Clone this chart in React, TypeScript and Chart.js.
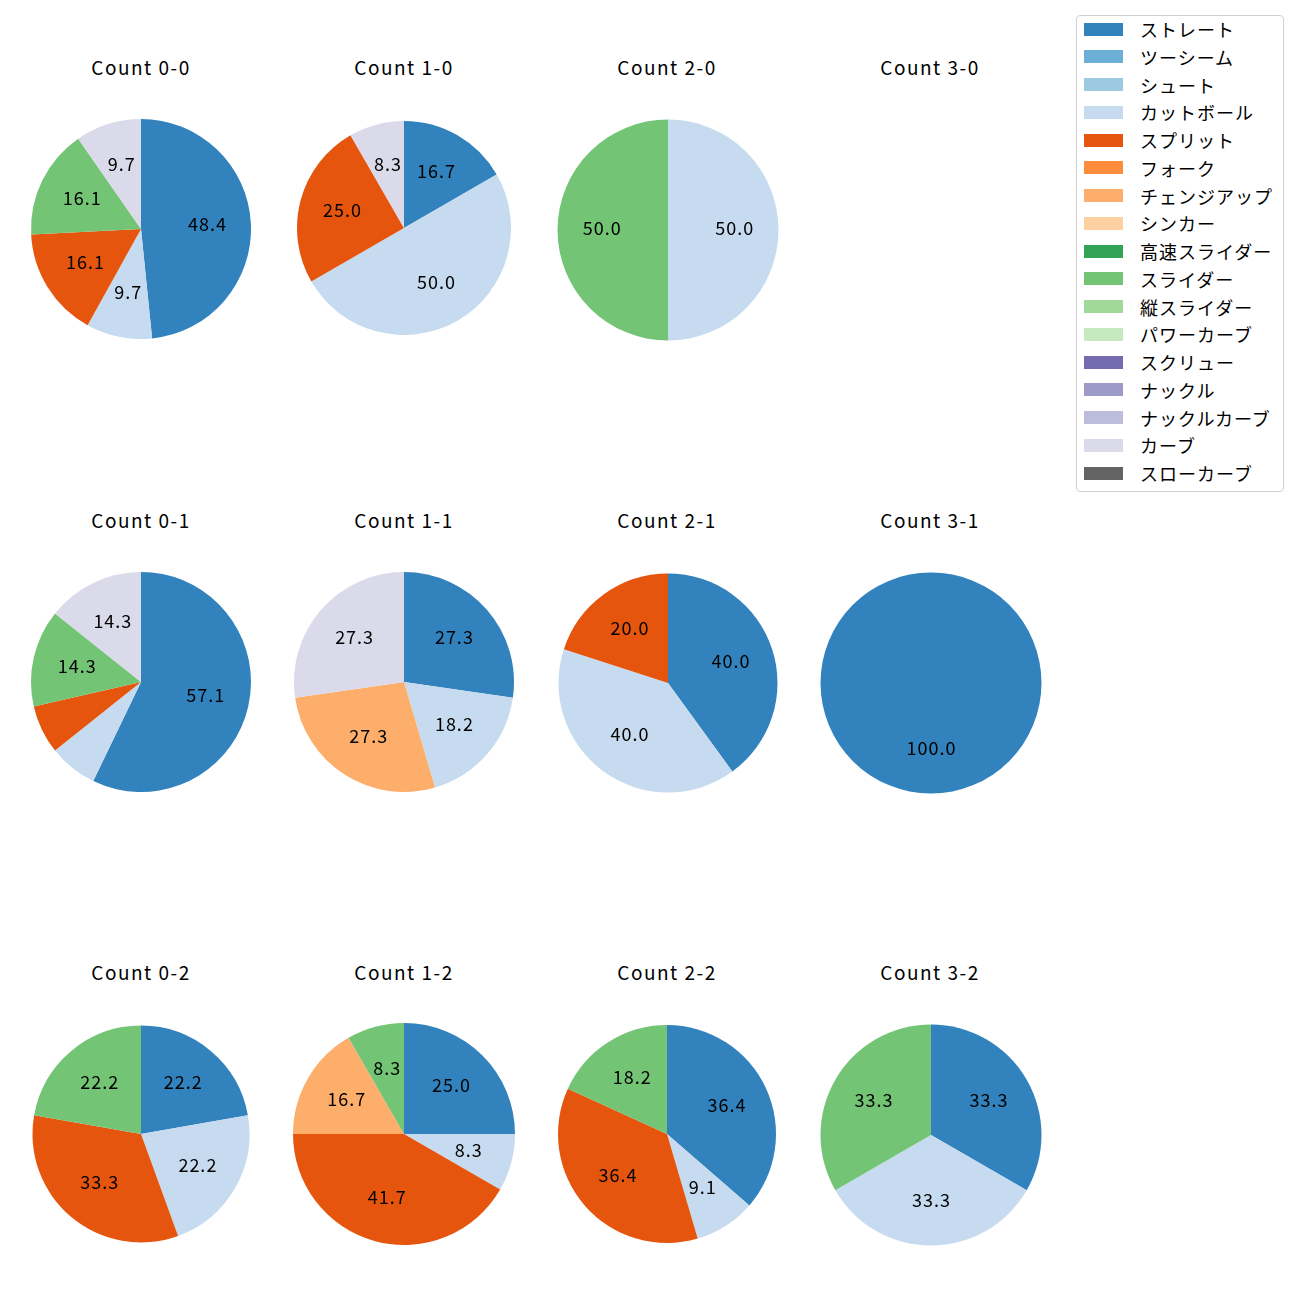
import React, { useEffect, useRef } from "react";
import { Chart, registerables } from "chart.js";

Chart.register(...registerables);

const pitchTypes = [
  "ストレート", "ツーシーム", "シュート", "カットボール", "スプリット", "フォーク",
  "チェンジアップ", "シンカー", "高速スライダー", "スライダー", "縦スライダー",
  "パワーカーブ", "スクリュー", "ナックル", "ナックルカーブ", "カーブ", "スローカーブ",
];
const pitchColors = [
  "#3182bd", "#6baed6", "#9ecae1", "#c6dbef", "#e6550d", "#fd8d3c",
  "#fdae6b", "#fdd0a2", "#31a354", "#74c476", "#a1d99b", "#c7e9c0",
  "#756bb1", "#9e9ac8", "#bcbddc", "#dadaeb", "#636363",
];

// pitch counts per ball-strike count, in pitchTypes order
const count00 = [15, 0, 0, 3, 5, 0, 0, 0, 0, 5, 0, 0, 0, 0, 0, 3, 0];
const count10 = [2, 0, 0, 6, 3, 0, 0, 0, 0, 0, 0, 0, 0, 0, 0, 1, 0];
const count20 = [0, 0, 0, 1, 0, 0, 0, 0, 0, 1, 0, 0, 0, 0, 0, 0, 0];
const count30 = [0, 0, 0, 0, 0, 0, 0, 0, 0, 0, 0, 0, 0, 0, 0, 0, 0];
const count01 = [8, 0, 0, 1, 1, 0, 0, 0, 0, 2, 0, 0, 0, 0, 0, 2, 0];
const count11 = [3, 0, 0, 2, 0, 0, 3, 0, 0, 0, 0, 0, 0, 0, 0, 3, 0];
const count21 = [2, 0, 0, 2, 1, 0, 0, 0, 0, 0, 0, 0, 0, 0, 0, 0, 0];
const count31 = [1, 0, 0, 0, 0, 0, 0, 0, 0, 0, 0, 0, 0, 0, 0, 0, 0];
const count02 = [2, 0, 0, 2, 3, 0, 0, 0, 0, 2, 0, 0, 0, 0, 0, 0, 0];
const count12 = [3, 0, 0, 1, 5, 0, 2, 0, 0, 1, 0, 0, 0, 0, 0, 0, 0];
const count22 = [4, 0, 0, 1, 4, 0, 0, 0, 0, 2, 0, 0, 0, 0, 0, 0, 0];
const count32 = [1, 0, 0, 1, 0, 0, 0, 0, 0, 1, 0, 0, 0, 0, 0, 0, 0];

const panelTitles = [
  "Count 0-0", "Count 1-0", "Count 2-0", "Count 3-0",
  "Count 0-1", "Count 1-1", "Count 2-1", "Count 3-1",
  "Count 0-2", "Count 1-2", "Count 2-2", "Count 3-2",
];
const panelData = [
  count00, count10, count20, count30,
  count01, count11, count21, count31,
  count02, count12, count22, count32,
];

// layout (panel geometry, separate from data)
const panelCx = [141, 404, 667.5, 930, 141, 404, 667.5, 930.5, 140.5, 404, 667, 930.5];
const panelCy = [229, 227.5, 229.5, 229, 682, 682, 682.5, 682.5, 1133.5, 1134, 1134, 1135];
const panelR = [110, 107, 110.5, 110, 110, 110, 109.5, 110.5, 108.5, 111, 109, 110.5];
const colCenters = [141, 404, 667, 930];
const titleYs = [68, 521, 973];
const CANVAS = 226;
const FONT = "'Noto Sans CJK JP', 'Noto Sans', sans-serif";
const LABEL_MIN_PCT = 8;

const pctLabelPlugin = {
  id: "pctLabels",
  afterDatasetsDraw(chart: any) {
    const ctx = chart.ctx;
    const ds = chart.data.datasets[0];
    const values: number[] = ds.data;
    const total = values.reduce((a, b) => a + b, 0);
    if (!total) return;
    const meta = chart.getDatasetMeta(0);
    ctx.save();
    ctx.font = `18px ${FONT}`;
    (ctx as any).letterSpacing = "1px";
    ctx.fillStyle = "#000";
    ctx.textAlign = "center";
    ctx.textBaseline = "middle";
    meta.data.forEach((arc: any, i: number) => {
      const v = values[i];
      if (!v) return;
      const pct = (v / total) * 100;
      if (pct < LABEL_MIN_PCT) return;
      const p = arc.getProps(["x", "y", "startAngle", "endAngle", "outerRadius"], true);
      const mid = (p.startAngle + p.endAngle) / 2;
      const d = p.outerRadius * 0.6;
      ctx.fillText(pct.toFixed(1), p.x + Math.cos(mid) * d + 0.5, p.y + Math.sin(mid) * d - 1.5);
    });
    ctx.restore();
  },
};

function PiePanel({ data, cx, cy, r }: { data: number[]; cx: number; cy: number; r: number }) {
  const ref = useRef<HTMLCanvasElement | null>(null);
  useEffect(() => {
    if (!ref.current) return;
    const pad = CANVAS / 2 - r;
    const chart = new Chart(ref.current, {
      type: "pie",
      data: {
        labels: pitchTypes,
        datasets: [{ data, backgroundColor: pitchColors, borderWidth: 0 }],
      },
      options: {
        responsive: false,
        animation: false,
        layout: { padding: pad },
        plugins: { legend: { display: false }, tooltip: { enabled: false }, title: { display: false } },
      },
      plugins: [pctLabelPlugin],
    } as any);
    return () => chart.destroy();
  }, [data, r]);
  return (
    <canvas
      ref={ref}
      width={CANVAS}
      height={CANVAS}
      style={{ position: "absolute", left: cx - CANVAS / 2, top: cy - CANVAS / 2, width: CANVAS, height: CANVAS }}
    />
  );
}

export default function App() {
  return (
    <div style={{ position: "absolute", left: 0, top: 0, width: 1300, height: 1300, background: "#fff", fontFamily: FONT }}>
      {panelTitles.map((t, i) => {
        const col = i % 4;
        const row = Math.floor(i / 4);
        const hasData = panelData[i].some((v) => v > 0);
        return (
          <React.Fragment key={t}>
            <div
              style={{
                position: "absolute",
                left: colCenters[col] - 100,
                width: 200,
                top: titleYs[row] - 13,
                height: 24,
                lineHeight: "24px",
                textAlign: "center",
                fontSize: 19,
                letterSpacing: 1.5,
                color: "#000",
                whiteSpace: "nowrap",
              }}
            >
              {t}
            </div>
            {hasData && <PiePanel data={panelData[i]} cx={panelCx[i]} cy={panelCy[i]} r={panelR[i]} />}
          </React.Fragment>
        );
      })}
      <div
        style={{
          position: "absolute",
          left: 1076,
          top: 15,
          width: 206,
          height: 475,
          border: "1px solid #d0d0d0",
          borderRadius: 4,
          background: "#fff",
        }}
      />
      {pitchTypes.map((p, i) => {
        const yc = 29 + i * 27.75;
        return (
          <React.Fragment key={p}>
            <div
              style={{
                position: "absolute",
                left: 1084,
                top: yc - 6.5,
                width: 39,
                height: 13,
                background: pitchColors[i],
              }}
            />
            <div
              style={{
                position: "absolute",
                left: 1140,
                top: yc - 12,
                height: 24,
                lineHeight: "24px",
                fontSize: 18,
                letterSpacing: 1,
                color: "#000",
                whiteSpace: "nowrap",
              }}
            >
              {p}
            </div>
          </React.Fragment>
        );
      })}
    </div>
  );
}
